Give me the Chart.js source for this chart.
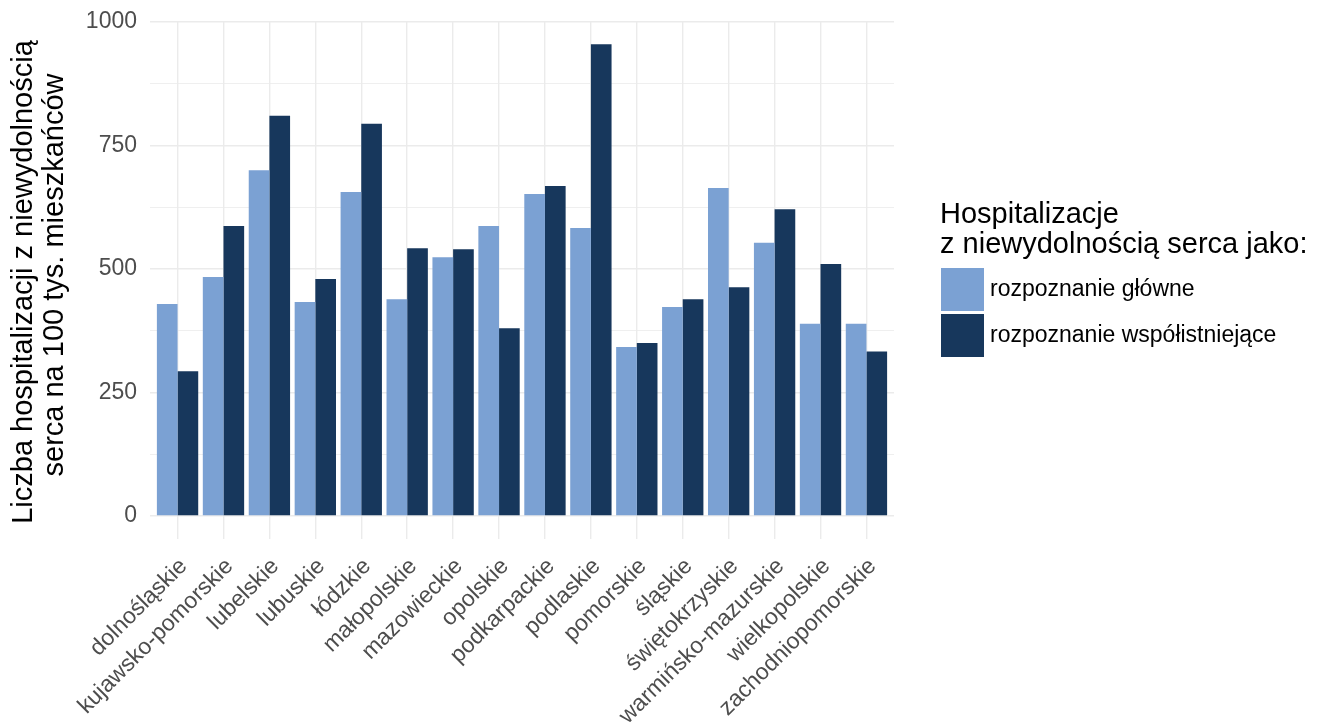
<!DOCTYPE html>
<html lang="pl">
<head>
<meta charset="utf-8">
<title>Hospitalizacje z niewydolnością serca</title>
<script src="https://cdn.jsdelivr.net/npm/chart.js@4/dist/chart.umd.min.js"></script>
<style>
  html, body { margin: 0; padding: 0; background: #ffffff; }
  #wrap { position: relative; width: 1327px; height: 722px; }
  canvas { display: block; }
</style>
</head>
<body>
<div id="wrap"><canvas id="chart" width="1327" height="722"></canvas></div>
<script>
// Województwa
const regions = [
  'dolnośląskie', 'kujawsko-pomorskie', 'lubelskie', 'lubuskie', 'łódzkie',
  'małopolskie', 'mazowieckie', 'opolskie', 'podkarpackie', 'podlaskie',
  'pomorskie', 'śląskie', 'świętokrzyskie', 'warmińsko-mazurskie',
  'wielkopolskie', 'zachodniopomorskie'
];
// Hospitalizacje na 100 tys. mieszkańców – rozpoznanie główne
const mainDiagnosis = [429, 484, 700, 433, 656, 439, 524, 587, 652, 583, 342, 423, 664, 553, 389, 389];
// Hospitalizacje na 100 tys. mieszkańców – rozpoznanie współistniejące
const comorbidDiagnosis = [293, 587, 810, 480, 794, 542, 540, 380, 668, 955, 350, 439, 463, 621, 510, 333];
// Podziałka osi Y
const yTickStep = 125;
const yLabelStep = 250;
const yMax = 1000;

const seriesNames = ['rozpoznanie główne', 'rozpoznanie współistniejące'];
const seriesColors = ['#7BA1D3', '#17375C'];
const legendTitle = ['Hospitalizacje', 'z niewydolnością serca jako:'];
const yTitle = ['Liczba hospitalizacji z niewydolnością', 'serca na 100 tys. mieszkańców'];

const FONT = "'Liberation Sans', Arial, Helvetica, sans-serif";
const GRID = '#EBEBEB';

const toPoints = vals => vals.map((v, i) => ({ x: i, y: v }));

// Tytuł osi Y (dwie linie, obrócone) oraz legenda po prawej stronie
const extras = {
  id: 'extras',
  afterDraw(chart) {
    const ctx = chart.ctx;
    ctx.save();
    // tytuł osi Y
    ctx.fillStyle = '#000000';
    ctx.font = '29px ' + FONT;
    ctx.textAlign = 'center';
    ctx.textBaseline = 'alphabetic';
    const yt = [{ x: 31.5, y: 282 }, { x: 63.3, y: 275 }];
    yTitle.forEach((line, i) => {
      ctx.save();
      ctx.translate(yt[i].x, yt[i].y);
      ctx.rotate(-Math.PI / 2);
      ctx.fillText(line, 0, 0);
      ctx.restore();
    });
    // legenda
    ctx.textAlign = 'left';
    ctx.fillText(legendTitle[0], 940, 223);
    ctx.fillText(legendTitle[1], 940, 253);
    ctx.font = '23px ' + FONT;
    ctx.textBaseline = 'middle';
    chart.data.datasets.forEach((ds, i) => {
      const top = 268 + i * 46;
      ctx.fillStyle = ds.backgroundColor;
      ctx.fillRect(941, top, 43, 43);
      ctx.fillStyle = '#000000';
      ctx.fillText(ds.label, 990, top + 22);
    });
    ctx.restore();
  }
};

new Chart(document.getElementById('chart'), {
  type: 'bar',
  data: {
    datasets: [
      { label: seriesNames[0], data: toPoints(mainDiagnosis), backgroundColor: seriesColors[0] },
      { label: seriesNames[1], data: toPoints(comorbidDiagnosis), backgroundColor: seriesColors[1] }
    ]
  },
  options: {
    responsive: false,
    animation: false,
    devicePixelRatio: 1,
    layout: { padding: { top: 22, right: 433, bottom: 0, left: 0 } },
    datasets: {
      bar: { barPercentage: 1, categoryPercentage: 0.9, borderWidth: 0 }
    },
    plugins: {
      legend: { display: false },
      tooltip: { enabled: false }
    },
    scales: {
      x: {
        type: 'linear',
        offset: false,
        min: -0.6,
        max: regions.length - 0.4,
        afterBuildTicks: s => { s.ticks = regions.map((_, i) => ({ value: i })); },
        afterFit: s => { s.height = 206; s.paddingLeft = 0; s.paddingRight = 0; },
        border: { display: false },
        grid: { offset: false, color: GRID, lineWidth: 1.4, drawTicks: true, tickLength: 23, tickColor: GRID, tickWidth: 1.4 },
        ticks: {
          autoSkip: false,
          minRotation: 45,
          maxRotation: 45,
          padding: 14,
          labelOffset: 6,
          color: '#4D4D4D',
          font: { family: FONT, size: 23 },
          callback: v => regions[v]
        }
      },
      y: {
        min: 0,
        max: yMax,
        afterFit: s => { s.width = 150; s.paddingTop = 0; s.paddingBottom = 0; },
        border: { display: false },
        grid: {
          color: GRID,
          drawTicks: false,
          lineWidth: c => (c.tick && c.tick.value % yLabelStep === 0) ? 1.6 : 0.8
        },
        ticks: {
          stepSize: yTickStep,
          padding: 13,
          color: '#4D4D4D',
          font: { family: FONT, size: 23 },
          callback: v => (v % yLabelStep === 0 ? String(v) : '')
        }
      }
    }
  },
  plugins: [extras]
});
</script>
</body>
</html>
